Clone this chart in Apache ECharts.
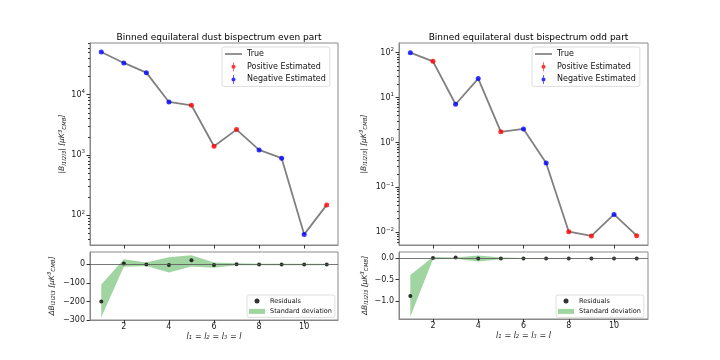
<!DOCTYPE html>
<html>
<head>
<meta charset="utf-8">
<script src="https://cdn.jsdelivr.net/npm/echarts@6/dist/echarts.min.js"></script>
<style>
  html, body { margin: 0; padding: 0; background: #fff; }
  #chart { width: 720px; height: 360px; }
</style>
</head>
<body>
<div id="chart"></div>
<script>
// bins l1 = l2 = l3 = l
var bins = [1, 2, 3, 4, 5, 6, 7, 8, 9, 10, 11];

// even part |B|, sign of the estimate (+1 red / -1 blue)
var evenAbs  = [51000, 33600, 23200, 7570, 6660, 1390, 2630, 1210, 882, 48, 148];
var evenSign = [-1, -1, -1, -1, 1, 1, 1, -1, -1, -1, 1];

// odd part
var oddAbs  = [100, 64, 7.1, 26.5, 1.72, 2.0, 0.35, 0.0103, 0.0083, 0.025, 0.0084];
var oddSign = [-1, 1, -1, -1, 1, -1, -1, 1, 1, -1, 1];

// residuals and standard deviation band
var evenResid = [-200, 5, 0, -3, 23, -3, 1, 0, 0, 0, 0];
var evenLow   = [-285, -12, -9, -43, -11, -18, -5, -4, -4, -4, -4];
var evenHigh  = [-108, 28, 10, 38, 50, 11, 6, 4, 4, 4, 4];
var oddResid  = [-0.88, 0.01, 0.02, 0.0, 0.0, 0.0, 0.0, 0.0, 0.0, 0.0, 0.0];
var oddLow    = [-1.37, -0.02, -0.01, -0.07, -0.02, -0.01, -0.01, -0.01, -0.01, -0.01, -0.01];
var oddHigh   = [-0.39, 0.03, 0.02, 0.07, 0.02, 0.01, 0.01, 0.01, 0.01, 0.01, 0.01];

// ticks
var xTicks = [2, 4, 6, 8, 10];
var evenMajor = [100, 1000, 10000];
var oddMajor = [0.01, 0.1, 1, 10, 100];
var evenResTicks = [-300, -200, -100, 0];
var oddResTicks = [-1, -0.5, 0];

var FONT = 'DejaVu Sans';
var SPINE = '#888';
var GREEN = 'rgba(44,160,44,0.45)';
var EB_ICON = 'path://M4.5,0 L5.5,0 L5.5,12 L4.5,12 Z M2.3,6 A2.7,2.7 0 1 1 7.7,6 A2.7,2.7 0 1 1 2.3,6 Z';
var LINE_ICON = 'path://M0,0 L20,0 L20,2 L0,2 Z';

function minorTicks(lo, hi) {
    var out = [];
    for (var e = Math.floor(Math.log10(lo)); e <= Math.ceil(Math.log10(hi)); e++) {
        for (var m = 2; m <= 9; m++) {
            var t = m * Math.pow(10, e);
            if (t >= lo && t <= hi) out.push(t);
        }
    }
    return out;
}

function minus(s) { return String(s).replace('-', '\u2212'); }

function pow10(v) {
    var e = Math.round(Math.log(v) / Math.LN10);
    return '10{sup|' + minus(e) + '}';
}

var rich = {
    sup: { fontSize: 5.5, lineHeight: 6, verticalAlign: 'top', fontFamily: FONT },
    sub: { fontSize: 5.5, lineHeight: 6, verticalAlign: 'bottom', fontFamily: FONT, fontStyle: 'italic' }
};

function xAxis(grid, labels) {
    var ax = {
        type: 'value', gridIndex: grid, min: 0.5, max: 11.5,
        axisLine: { onZero: false, lineStyle: { color: SPINE, width: 1 } },
        axisTick: { customValues: xTicks, length: 3.5, lineStyle: { color: '#333' } },
        axisLabel: { show: labels, customValues: xTicks, fontSize: 8, color: '#222', margin: 3 },
        splitLine: { show: false }
    };
    if (labels) {
        ax.name = '{it|l}{sub|1} = {it|l}{sub|2} = {it|l}{sub|3} = {it|l}';
        ax.nameLocation = 'middle';
        ax.nameGap = 13;
        ax.nameTextStyle = { fontSize: 8, color: '#222', rich: {
            it: { fontSize: 8, fontStyle: 'italic', fontFamily: FONT },
            sub: rich.sub
        } };
    }
    return ax;
}

function logAxis(grid, lo, hi, major, gap) {
    return {
        type: 'log', logBase: 10, gridIndex: grid, min: lo, max: hi,
        axisLine: { onZero: false, lineStyle: { color: SPINE, width: 1 } },
        axisTick: { customValues: major, length: 3.5, lineStyle: { color: '#333' } },
        axisLabel: { customValues: major, formatter: pow10, fontSize: 8, lineHeight: 12, color: '#222', margin: 5, rich: rich },
        splitLine: { show: false },
        name: '|B{sub|l1l2l3}| [μK{sup|3}{sub|CMB}]',
        nameLocation: 'middle', nameRotate: 90, nameGap: gap,
        nameTextStyle: { fontSize: 7.5, fontStyle: 'italic', color: '#222', lineHeight: 10, rich: rich }
    };
}

function minorAxis(grid, lo, hi) {
    return {
        type: 'log', logBase: 10, gridIndex: grid, min: lo, max: hi, position: 'left',
        axisLine: { show: false },
        axisTick: { customValues: minorTicks(lo, hi), length: 2, lineStyle: { color: '#333' } },
        axisLabel: { show: false },
        splitLine: { show: false }
    };
}

function resAxis(grid, lo, hi, ticks, gap, fmt) {
    return {
        type: 'value', gridIndex: grid, min: lo, max: hi,
        axisLine: { onZero: false, lineStyle: { color: SPINE, width: 1 } },
        axisTick: { customValues: ticks, length: 3.5, lineStyle: { color: '#333' } },
        axisLabel: { customValues: ticks, fontSize: 8, color: '#222', margin: 5, formatter: fmt },
        splitLine: { show: false },
        name: 'ΔB{sub|l1l2l3} [μK{sup|3}{sub|CMB}]',
        nameLocation: 'middle', nameRotate: 90, nameGap: gap,
        nameTextStyle: { fontSize: 7.5, fontStyle: 'italic', color: '#222', lineHeight: 10, rich: rich }
    };
}

function pairs(vals) { return bins.map(function (x, i) { return [x, vals[i]]; }); }
function signed(vals, signs, s) {
    var out = [];
    bins.forEach(function (x, i) { if (signs[i] === s) out.push([x, vals[i]]); });
    return out;
}

function topSeries(xi, yi, vals, signs) {
    return [
        { name: 'True', type: 'line', xAxisIndex: xi, yAxisIndex: yi, data: pairs(vals),
          symbol: 'none', color: '#808080', lineStyle: { color: '#808080', width: 1.8 }, z: 2 },
        { name: 'Positive Estimated', type: 'scatter', xAxisIndex: xi, yAxisIndex: yi,
          data: signed(vals, signs, 1), symbolSize: 5, color: '#ff0000', z: 3 },
        { name: 'Negative Estimated', type: 'scatter', xAxisIndex: xi, yAxisIndex: yi,
          data: signed(vals, signs, -1), symbolSize: 5, color: '#0000ff', z: 3 }
    ];
}

// band drawn as one polygon through the axis scales
function renderBand(params, api) {
    if (params.dataIndexInside !== 0) return null;
    var n = params.dataInsideLength || bins.length;
    var pts = [], j;
    for (j = 0; j < n; j++) pts.push(api.coord([api.value(0, j), api.value(2, j)]));
    for (j = n - 1; j >= 0; j--) pts.push(api.coord([api.value(0, j), api.value(1, j)]));
    return { type: 'polygon', shape: { points: pts }, style: { fill: GREEN, stroke: null } };
}

function resSeries(xi, yi, resid, low, high) {
    return [
        { name: 'Standard deviation', type: 'custom', xAxisIndex: xi, yAxisIndex: yi,
          data: bins.map(function (x, i) { return [x, low[i], high[i]]; }),
          encode: { x: 0, y: [1, 2] }, renderItem: renderBand, color: GREEN, silent: true, z: 1 },
        { name: 'Residuals', type: 'scatter', xAxisIndex: xi, yAxisIndex: yi, data: pairs(resid),
          symbolSize: 4, color: '#000', z: 4,
          markLine: { silent: true, symbol: ['none', 'none'], label: { show: false },
                      lineStyle: { color: '#555', width: 0.8, type: 'solid' }, data: [{ yAxis: 0 }] } }
    ];
}

function topLegend(left) {
    return {
        left: left, top: 47, orient: 'vertical', itemWidth: 17, itemHeight: 9, itemGap: 2.7,
        padding: [2, 4, 2, 3], borderColor: '#d5d5d5', borderWidth: 0.8, borderRadius: 2,
        backgroundColor: 'rgba(255,255,255,0.8)',
        textStyle: { fontSize: 8, color: '#111', lineHeight: 10 },
        data: [
            { name: 'True', icon: LINE_ICON, itemStyle: { color: '#808080' } },
            { name: 'Positive Estimated', icon: EB_ICON },
            { name: 'Negative Estimated', icon: EB_ICON }
        ]
    };
}

function resLegend(left) {
    return {
        left: left, top: 295, orient: 'vertical', itemWidth: 16, itemHeight: 5, itemGap: 2.4,
        padding: [2, 3, 2, 2], borderColor: '#d5d5d5', borderWidth: 0.8, borderRadius: 2,
        backgroundColor: 'rgba(255,255,255,0.8)',
        textStyle: { fontSize: 6.5, color: '#111', lineHeight: 8 },
        data: [
            { name: 'Residuals', icon: 'circle' },
            { name: 'Standard deviation', icon: 'rect', itemStyle: { color: GREEN } }
        ]
    };
}

var chart = echarts.init(document.getElementById('chart'), null, { renderer: 'canvas' });

var option = {
    animation: false,
    textStyle: { fontFamily: FONT },
    title: [
        { text: 'Binned equilateral dust bispectrum even part', left: 214, top: 28, textAlign: 'center',
          textStyle: { fontSize: 9, fontWeight: 'normal', color: '#000' } },
        { text: 'Binned equilateral dust bispectrum odd part', left: 523.5, top: 28, textAlign: 'center',
          textStyle: { fontSize: 9, fontWeight: 'normal', color: '#000' } }
    ],
    legend: [topLegend(222), topLegend(532), resLegend(247), resLegend(556)],
    grid: [
        { left: 90, top: 43, width: 248, height: 202 },
        { left: 90, top: 252, width: 248, height: 68 },
        { left: 399, top: 43, width: 249, height: 202 },
        { left: 399, top: 252, width: 249, height: 67 }
    ].map(function (g) {
        g.show = true; g.borderColor = SPINE; g.borderWidth = 1; g.outerBoundsMode = 'none';
        return g;
    }),
    xAxis: [xAxis(0, false), xAxis(1, true), xAxis(2, false), xAxis(3, true)],
    yAxis: [
        logAxis(0, 32, 72000, evenMajor, 22),
        minorAxis(0, 32, 72000),
        resAxis(1, -300, 67, evenResTicks, 33, function (v) { return minus(v); }),
        logAxis(2, 0.0052, 164, oddMajor, 30),
        minorAxis(2, 0.0052, 164),
        resAxis(3, -1.42, 0.15, oddResTicks, 29, function (v) { return minus(v.toFixed(1)); })
    ],
    series: [].concat(
        topSeries(0, 0, evenAbs, evenSign),
        resSeries(1, 2, evenResid, evenLow, evenHigh),
        topSeries(2, 3, oddAbs, oddSign),
        resSeries(3, 5, oddResid, oddLow, oddHigh)
    )
};

chart.setOption(option);
</script>
</body>
</html>
